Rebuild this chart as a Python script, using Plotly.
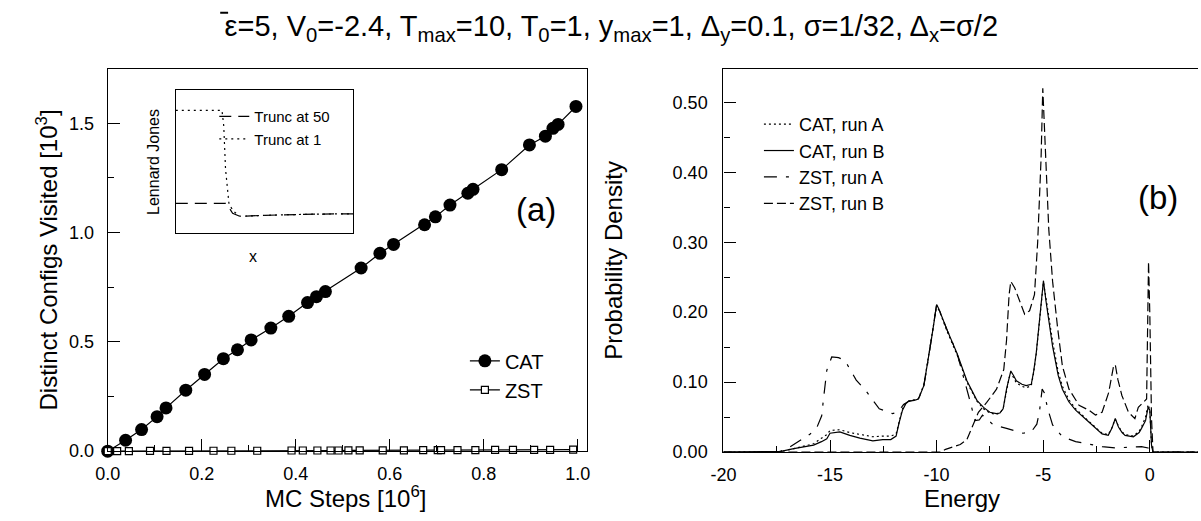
import plotly.graph_objects as go

W, H = 1201, 521

# ---------------- panel (a) data ----------------
cat_steps = [0.0, 0.038, 0.072, 0.105, 0.124, 0.166, 0.206, 0.246, 0.276, 0.305, 0.347,
             0.385, 0.425, 0.444, 0.463, 0.539, 0.579, 0.608, 0.674, 0.697, 0.728, 0.766,
             0.777, 0.838, 0.897, 0.931, 0.947, 0.958, 0.996]
cat_configs = [0.0, 0.05, 0.099, 0.158, 0.198, 0.279, 0.351, 0.423, 0.464, 0.509, 0.563,
               0.617, 0.680, 0.707, 0.730, 0.838, 0.905, 0.946, 1.036, 1.072, 1.126, 1.180,
               1.198, 1.288, 1.401, 1.441, 1.477, 1.495, 1.577]
zst_steps = [0.0, 0.02, 0.045, 0.09, 0.125, 0.173, 0.225, 0.263, 0.318, 0.391, 0.415, 0.446,
             0.474, 0.491, 0.512, 0.536, 0.585, 0.63, 0.671, 0.702, 0.709, 0.744, 0.782,
             0.824, 0.862, 0.907, 0.941, 0.99]
zst_configs = [0.0, 0.0, 0.0, 0.001, 0.001, 0.001, 0.002, 0.002, 0.002, 0.003, 0.003, 0.003,
               0.003, 0.003, 0.004, 0.004, 0.004, 0.004, 0.005, 0.005, 0.005, 0.005, 0.005,
               0.006, 0.006, 0.006, 0.006, 0.007]

# inset: Lennard-Jones potential truncations
lj1_x = [0.0, 0.26, 0.27, 0.28, 0.30, 0.33, 0.36, 0.45, 0.6, 0.8, 1.0]
lj1_y = [0.86, 0.86, 0.75, 0.45, 0.20, 0.15, 0.12, 0.125, 0.13, 0.135, 0.137]
lj50_x = [0.0, 0.28, 0.30, 0.32, 0.36, 0.45, 0.6, 0.8, 1.0]
lj50_y = [0.21, 0.21, 0.18, 0.14, 0.12, 0.125, 0.13, 0.135, 0.137]

# ---------------- panel (b) data ----------------
catB_E = [-20, -18.0, -17.3, -16.7, -16.2, -15.77, -15.4, -15.15, -15.0, -14.54, -14.07, -13.6,
          -12.99, -12.53, -12.15, -11.9, -11.76, -11.6, -11.45, -11.3, -11.05, -10.85, -10.6,
          -10.43, -10.25, -10.1, -10.0, -9.9, -9.81, -9.5, -9.04, -8.58, -8.11, -7.8, -7.5,
          -7.2, -7.03, -6.88, -6.72, -6.6, -6.52, -6.4, -6.26, -6.0, -5.8, -5.56, -5.45, -5.33,
          -5.2, -5.1, -4.99, -4.87, -4.7, -4.56, -4.3, -4.1, -3.8, -3.48, -2.86, -2.24, -1.95,
          -1.78, -1.62, -1.47, -1.3, -1.16, -0.77, -0.5, -0.39, -0.2, -0.08, 0.0, 0.08, 0.15, 2.26]
catB_P = [0, 0, 0.001, 0.005, 0.008, 0.010, 0.015, 0.019, 0.027, 0.029, 0.024, 0.020,
          0.016, 0.018, 0.018, 0.023, 0.042, 0.060, 0.069, 0.073, 0.074, 0.076, 0.095,
          0.125, 0.160, 0.190, 0.211, 0.205, 0.198, 0.174, 0.141, 0.102, 0.074, 0.064, 0.057,
          0.055, 0.056, 0.062, 0.090, 0.108, 0.116, 0.110, 0.102, 0.097, 0.095, 0.097, 0.115, 0.141,
          0.180, 0.205, 0.245, 0.216, 0.180, 0.151, 0.110, 0.090, 0.072, 0.060, 0.043, 0.026, 0.024,
          0.034, 0.048, 0.036, 0.028, 0.024, 0.022, 0.028, 0.034, 0.045, 0.064, 0.060, 0.010, 0, 0]
catA_P = [0, 0, 0.001, 0.005, 0.009, 0.012, 0.020, 0.025, 0.031, 0.032, 0.028, 0.025,
          0.022, 0.023, 0.023, 0.026, 0.044, 0.062, 0.070, 0.073, 0.075, 0.077, 0.096,
          0.126, 0.160, 0.190, 0.210, 0.204, 0.197, 0.172, 0.139, 0.100, 0.073, 0.062, 0.056,
          0.054, 0.056, 0.062, 0.088, 0.106, 0.114, 0.108, 0.099, 0.094, 0.092, 0.095, 0.113, 0.140,
          0.180, 0.207, 0.243, 0.220, 0.185, 0.158, 0.115, 0.094, 0.075, 0.062, 0.044, 0.027, 0.025,
          0.035, 0.047, 0.037, 0.029, 0.025, 0.023, 0.030, 0.036, 0.050, 0.068, 0.060, 0.010, 0, 0]

zstA_E = [-20, -17.4, -16.9, -16.47, -15.93, -15.62, -15.39, -15.31, -15.15, -14.92, -14.6, -14.3,
          -13.77, -13.3, -12.69, -12.07, -11.85, -11.7, -11.55, -11.3, -11.05, -10.85, -10.6,
          -10.43, -10.25, -10.1, -10.0, -9.9, -9.81, -9.5, -9.04, -8.75, -8.45, -8.2, -8.0, -7.85,
          -7.6, -7.34, -6.72, -5.95, -5.56, -5.3, -5.18, -5.05, -4.95, -4.79, -4.56, -4.1, -3.48,
          -2.86, -2.24, -1.62, -0.85, -0.39, -0.08, 0.1, 0.2, 2.26]
zstA_P = [0, 0, 0.007, 0.016, 0.026, 0.035, 0.052, 0.075, 0.117, 0.136, 0.135, 0.131,
          0.103, 0.087, 0.062, 0.055, 0.057, 0.062, 0.068, 0.073, 0.074, 0.076, 0.095,
          0.125, 0.160, 0.190, 0.211, 0.205, 0.198, 0.174, 0.141, 0.110, 0.075, 0.045, 0.046, 0.053,
          0.046, 0.039, 0.034, 0.027, 0.029, 0.040, 0.057, 0.090, 0.085, 0.062, 0.039, 0.022, 0.015,
          0.011, 0.008, 0.006, 0.007, 0.008, 0.006, 0.0, 0, 0]

zstB_E = [-20, -9.8, -9.58, -8.89, -8.58, -8.27, -8.04, -7.65, -7.19, -6.85, -6.72, -6.6, -6.52,
          -6.34, -6.1, -5.87, -5.64, -5.41, -5.26, -5.1, -5.02, -4.95, -4.87, -4.74, -4.56, -4.33,
          -4.1, -3.79, -3.32, -2.86, -2.55, -2.24, -1.93, -1.7, -1.62, -1.5, -1.31, -1.0, -0.7,
          -0.54, -0.31, -0.15, -0.06, 0.0, 0.08, 0.15, 2.26]
zstB_P = [0, 0, 0.004, 0.011, 0.018, 0.039, 0.057, 0.071, 0.090, 0.118, 0.160, 0.225, 0.244,
          0.235, 0.216, 0.197, 0.202, 0.225, 0.300, 0.420, 0.520, 0.478, 0.412, 0.319, 0.244, 0.179,
          0.123, 0.090, 0.067, 0.060, 0.053, 0.057, 0.085, 0.123, 0.125, 0.104, 0.081, 0.057, 0.048,
          0.064, 0.071, 0.076, 0.272, 0.197, 0.048, 0, 0]

a_xticks = [0.0, 0.2, 0.4, 0.6, 0.8, 1.0]
a_xticklabels = ["0.0", "0.2", "0.4", "0.6", "0.8", "1.0"]
a_yticks = [0.0, 0.5, 1.0, 1.5]
a_yticklabels = ["0.0", "0.5", "1.0", "1.5"]
b_xticks = [-20, -15, -10, -5, 0]
b_xticklabels = ["-20", "-15", "-10", "-5", "0"]
b_yticks = [0.0, 0.1, 0.2, 0.3, 0.4, 0.5]
b_yticklabels = ["0.00", "0.10", "0.20", "0.30", "0.40", "0.50"]

FONT = "Liberation Sans, Arial, sans-serif"
LW = 1.2


def px_x(p):
    return p / W


def px_y(p):
    return 1 - p / H


fig = go.Figure()

# panel (a)
fig.add_trace(go.Scatter(x=cat_steps, y=cat_configs, name="CAT", mode="lines+markers",
                         line=dict(color="black", width=LW),
                         marker=dict(symbol="circle", size=13, color="black"),
                         xaxis="x", yaxis="y", legend="legend", cliponaxis=False))
fig.add_trace(go.Scatter(x=zst_steps, y=zst_configs, name="ZST", mode="lines+markers",
                         line=dict(color="black", width=LW),
                         marker=dict(symbol="square", size=7, color="white",
                                     line=dict(color="black", width=1.2)),
                         xaxis="x", yaxis="y", legend="legend", cliponaxis=False))

# inset
fig.add_trace(go.Scatter(x=lj50_x, y=lj50_y, name="Trunc at 50", mode="lines",
                         line=dict(color="black", width=1.2, dash="12px,7px"),
                         xaxis="x3", yaxis="y3", legend="legend3"))
fig.add_trace(go.Scatter(x=lj1_x, y=lj1_y, name="Trunc at 1", mode="lines",
                         line=dict(color="black", width=1.2, dash="2px,4px"),
                         xaxis="x3", yaxis="y3", legend="legend3"))

# panel (b)
fig.add_trace(go.Scatter(x=catB_E, y=catA_P, name="CAT, run A", mode="lines",
                         line=dict(color="black", width=1.2, dash="2px,3px"),
                         xaxis="x2", yaxis="y2", legend="legend2"))
fig.add_trace(go.Scatter(x=catB_E, y=catB_P, name="CAT, run B", mode="lines",
                         line=dict(color="black", width=1.2),
                         xaxis="x2", yaxis="y2", legend="legend2"))
fig.add_trace(go.Scatter(x=zstA_E, y=zstA_P, name="ZST, run A", mode="lines",
                         line=dict(color="black", width=1.2, dash="13px,9px,3px,9px"),
                         xaxis="x2", yaxis="y2", legend="legend2"))
fig.add_trace(go.Scatter(x=zstB_E, y=zstB_P, name="ZST, run B", mode="lines",
                         line=dict(color="black", width=1.2, dash="9px,4px"),
                         xaxis="x2", yaxis="y2", legend="legend2"))

axis_common = dict(showline=True, linecolor="black", linewidth=1.3, ticks="inside",
                   ticklen=12, tickwidth=1.2, tickcolor="black", showgrid=False,
                   zeroline=False, tickfont=dict(family=FONT, size=18, color="black"))

fig.update_layout(
    width=W, height=H,
    margin=dict(l=0, r=0, t=0, b=0),
    paper_bgcolor="white", plot_bgcolor="white",
    font=dict(family=FONT, color="black"),
    title=dict(text="ε=5, V<sub>0</sub>=-2.4, T<sub>max</sub>=10, T<sub>0</sub>=1, y<sub>max</sub>=1, "
                    "Δ<sub>y</sub>=0.1, σ=1/32, Δ<sub>x</sub>=σ/2",
               x=0.509, xanchor="center", y=px_y(26), yanchor="middle",
               font=dict(family=FONT, size=29, color="black")),
    xaxis=dict(domain=[px_x(96), px_x(582)], range=[0, 1.02], mirror=True,
               tickvals=a_xticks, ticktext=a_xticklabels, ticklabelstandoff=6,
               minor=dict(dtick=0.1, tick0=0, ticklen=6, ticks="inside", tickcolor="black"),
               anchor="y", **axis_common),
    yaxis=dict(domain=[px_y(460), px_y(70)], range=[0, 1.75], mirror=True,
               tickvals=a_yticks, ticktext=a_yticklabels, ticklabelstandoff=9,
               minor=dict(dtick=0.25, tick0=0, ticklen=6, ticks="inside", tickcolor="black"),
               anchor="x", **axis_common),
    xaxis2=dict(domain=[px_x(720), 1.0], range=[-20, 2.26], mirror=True,
                tickvals=b_xticks, ticktext=b_xticklabels, ticklabelstandoff=6,
                minor=dict(dtick=2.5, tick0=0, ticklen=6, ticks="inside", tickcolor="black"),
                anchor="y2", **axis_common),
    yaxis2=dict(domain=[px_y(461), px_y(70)], range=[0, 0.548], mirror=False,
                tickvals=b_yticks, ticktext=b_yticklabels, ticklabelstandoff=11,
                minor=dict(dtick=0.05, tick0=0, ticklen=6, ticks="inside", tickcolor="black"),
                anchor="x2", **axis_common),
    xaxis3=dict(domain=[px_x(165), px_x(345)], range=[0, 1], showline=True, mirror=True,
                linecolor="black", linewidth=1.3, showticklabels=False, ticks="",
                showgrid=False, zeroline=False, anchor="y3"),
    yaxis3=dict(domain=[px_y(238), px_y(92)], range=[0, 1], showline=True, mirror=True,
                linecolor="black", linewidth=1.3, showticklabels=False, ticks="",
                showgrid=False, zeroline=False, anchor="x3"),
    legend=dict(x=px_x(458), y=px_y(348), xanchor="left", yanchor="top",
                bgcolor="rgba(0,0,0,0)", font=dict(family=FONT, size=20, color="black"),
                tracegroupgap=0, itemwidth=30),
    legend2=dict(x=px_x(756), y=px_y(108), xanchor="left", yanchor="top",
                 bgcolor="rgba(0,0,0,0)", font=dict(family=FONT, size=18, color="black"),
                 tracegroupgap=0, itemwidth=30),
    legend3=dict(x=px_x(204), y=px_y(102), xanchor="left", yanchor="top",
                 bgcolor="rgba(0,0,0,0)", font=dict(family=FONT, size=15, color="black"),
                 tracegroupgap=0, itemwidth=30),
    showlegend=True,
)

annots = [
    dict(text="Distinct Configs Visited [10<sup>3</sup>]", x=px_x(34), y=px_y(265), textangle=-90,
         font=dict(size=24)),
    dict(text="MC Steps [10<sup>6</sup>]", x=px_x(337), y=px_y(507), font=dict(size=24)),
    dict(text="Probability Density", x=px_x(609), y=px_y(265), textangle=-90, font=dict(size=24)),
    dict(text="Energy", x=px_x(962), y=px_y(508), font=dict(size=24)),
    dict(text="(a)", x=px_x(530), y=px_y(214), font=dict(size=33)),
    dict(text="(b)", x=px_x(1160), y=px_y(201), font=dict(size=33)),
    dict(text="Lennard Jones", x=px_x(143), y=px_y(165), textangle=-90, font=dict(size=16)),
    dict(text="x", x=px_x(243), y=px_y(262), font=dict(size=16)),
]
for a in annots:
    a.update(xref="paper", yref="paper", showarrow=False, xanchor="center", yanchor="middle")
    a["font"].update(family=FONT, color="black")
fig.update_layout(annotations=annots)

fig.add_shape(type="line", xref="paper", yref="paper", x0=px_x(210), x1=px_x(218),
              y0=px_y(13), y1=px_y(13), line=dict(color="black", width=2))

fig.write_html("out.html", config={"displayModeBar": False},
               post_script="document.body.style.margin='0px';")
